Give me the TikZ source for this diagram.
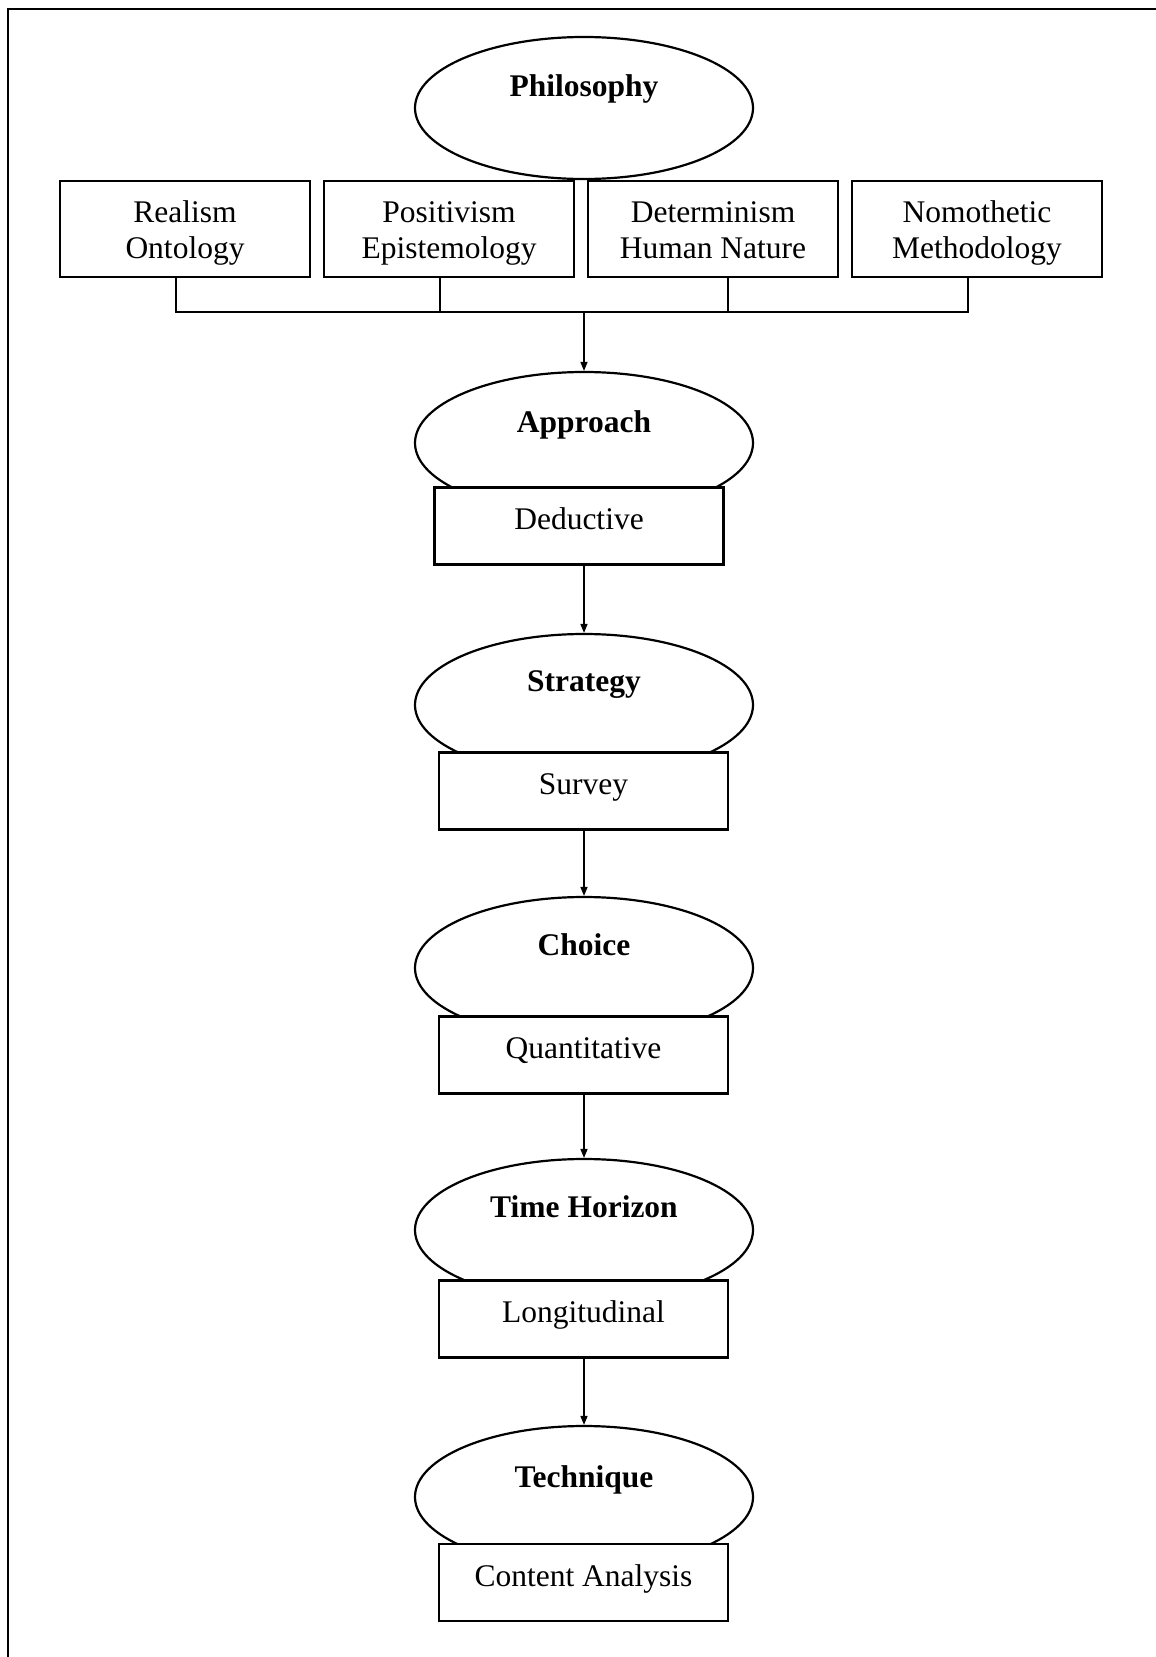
\documentclass[tikz,border=0pt]{standalone}
\usepackage{fontspec}
\setmainfont{Liberation Serif}
\usetikzlibrary{shapes.geometric,arrows.meta}
\newcommand{\toprule}{\rule{0pt}{34pt}}
\begin{document}
\begin{tikzpicture}[x=1pt,y=-1pt,
 ell/.style={draw, ellipse, line width=2.2pt, minimum width=338pt, minimum height=142pt, inner sep=0pt, fill=white},
 ttl/.style={font=\fontsize{31.5}{36}\selectfont\bfseries, inner sep=0pt, anchor=base},
 topbox/.style={draw, fill=white, line width=2.2pt, minimum width=250pt, minimum height=96pt, align=center, font=\fontsize{31.5}{36}\selectfont, inner sep=0pt},
 subbox/.style={draw, fill=white, line width=2.2pt, minimum width=289pt, minimum height=77pt, font=\fontsize{31.5}{36}\selectfont, text height=20pt, text depth=13pt, inner sep=0pt},
 conn/.style={line width=1.5pt},
 arr/.style={conn, -{Triangle[length=9pt,width=7pt]}}]
\useasboundingbox (0,0) rectangle (1156,1657);
\draw[line width=2.5pt] (8,1657) -- (8,9) -- (1156,9);

% Philosophy
\node[ell] (phil) at (584,108) {};
\node[ttl] (philt) at (584,96) {Philosophy};
\node[topbox] (b1) at (185,229) {\toprule Realism\\Ontology\strut};
\node[topbox] (b2) at (449,229) {\toprule Positivism\\Epistemology\strut};
\node[topbox] (b3) at (713,229) {\toprule Determinism\\Human Nature\strut};
\node[topbox] (b4) at (977,229) {\toprule Nomothetic\\Methodology\strut};
\coordinate (j) at (584,312);
\draw[conn] ([xshift=-9pt]b1.south) |- (j) -| ([xshift=-9pt]b4.south);
\draw[conn] ([xshift=-9pt]b2.south) -- ([xshift=-9pt]b2.south |- j);
\draw[conn] ([xshift=15pt]b3.south) -- ([xshift=15pt]b3.south |- j);

% Approach
\node[ell] (app) at (584,443) {};
\node[ttl] (appt) at (584,432) {Approach};
\node[subbox] (ded) at (579,526) {Deductive};
\draw[arr] (j) -- (app.north);

% Strategy
\node[ell] (str) at (584,705) {};
\node[ttl] (strt) at (584,691) {Strategy};
\node[subbox] (sur) at (583.5,791) {Survey};
\draw[arr] (ded.south -| app.center) -- (str.north);

% Choice
\node[ell] (cho) at (584,968) {};
\node[ttl] (chot) at (584,955) {Choice};
\node[subbox] (qua) at (583.5,1055) {Quantitative};
\draw[arr] (sur.south -| str.center) -- (cho.north);

% Time Horizon
\node[ell] (tim) at (584,1230) {};
\node[ttl] (timt) at (584,1217) {Time Horizon};
\node[subbox] (lon) at (583.5,1319) {Longitudinal};
\draw[arr] (qua.south -| cho.center) -- (tim.north);

% Technique
\node[ell] (tec) at (584,1497) {};
\node[ttl] (tect) at (584,1487) {Technique};
\node[subbox] (con) at (583.5,1582.5) {Content Analysis};
\draw[arr] (lon.south -| tim.center) -- (tec.north);
\end{tikzpicture}
\end{document}
